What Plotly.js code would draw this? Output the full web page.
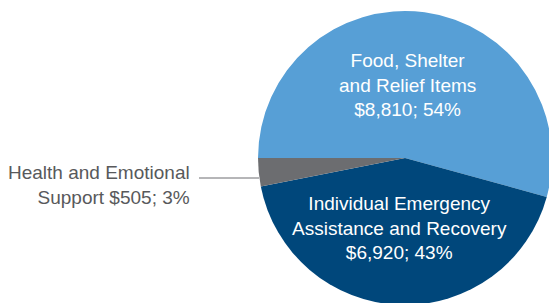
<!DOCTYPE html>
<html>
<head>
<meta charset="utf-8">
<script src="https://cdn.plot.ly/plotly-3.0.1.min.js"></script>
<style>
html,body{margin:0;padding:0;overflow:hidden;background:#fff;width:549px;height:303px;}
#chart{width:556px;height:310px;}
</style>
</head>
<body>
<div id="chart"></div>
<script>
const categories = ["Food, Shelter and Relief Items", "Individual Emergency Assistance and Recovery", "Health and Emotional Support"];
const labelLines = [["Food, Shelter", "and Relief Items"], ["Individual Emergency", "Assistance and Recovery"], ["Health and Emotional", "Support"]];
const values = [8810, 6920, 505];
const percents = [54, 43, 3];
const colors = ["#579fd6", "#00477b", "#6c6d70"];

const W = 556, H = 310;
const px = x => x / W;
const py = y => 1 - y / H;

function money(v){ return "$" + v.toLocaleString("en-US"); }

const trace = {
  type: "pie",
  labels: categories,
  values: values,
  sort: false,
  direction: "clockwise",
  rotation: -90,
  textinfo: "none",
  hoverinfo: "label+value+percent",
  marker: {colors: colors, line: {width: 0}},
  domain: {x: [px(258), px(552)], y: [py(305), py(11)]},
  showlegend: false
};

const f = {family: "Liberation Sans, Arial, Helvetica, sans-serif", size: 19};
const annotations = [
  {x: px(407), y: py(85), text: labelLines[0].join("<br>") + "<br>" + money(values[0]) + "; " + percents[0] + "%",
   font: Object.assign({}, f, {color: "#ffffff"}), xanchor: "center", yanchor: "middle", align: "center"},
  {x: px(399), y: py(228), text: labelLines[1].join("<br>") + "<br>" + money(values[1]) + "; " + percents[1] + "%",
   font: Object.assign({}, f, {color: "#ffffff"}), xanchor: "center", yanchor: "middle", align: "center"},
  {x: px(192), y: py(185), text: labelLines[2][0] + "<br>" + labelLines[2][1] + " " + money(values[2]) + "; " + percents[2] + "%",
   font: Object.assign({}, f, {color: "#58595b"}), xanchor: "right", yanchor: "middle", align: "right"}
].map(a => Object.assign({xref: "paper", yref: "paper", showarrow: false}, a));

const layout = {
  width: W, height: H,
  margin: {l: 0, r: 0, t: 0, b: 0},
  paper_bgcolor: "#ffffff",
  annotations: annotations,
  shapes: [{type: "line", xref: "paper", yref: "paper", x0: px(199), x1: px(259), y0: py(178), y1: py(178),
            line: {color: "#6c6d70", width: 1}}]
};

Plotly.newPlot("chart", [trace], layout, {displayModeBar: false, staticPlot: true});
</script>
</body>
</html>
